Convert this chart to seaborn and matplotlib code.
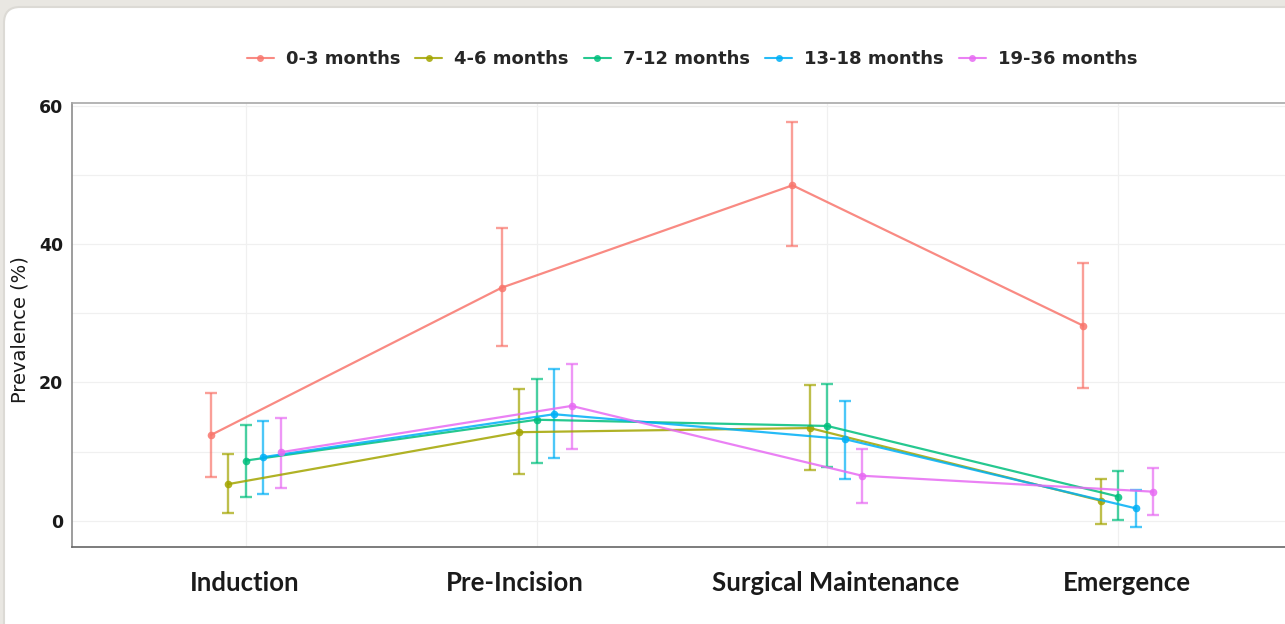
import numpy as np
import pandas as pd
import matplotlib
matplotlib.use('Agg')
from matplotlib import pyplot as plt
from matplotlib.lines import Line2D
from matplotlib.patches import FancyBboxPatch
import matplotlib.transforms as mtransforms
import seaborn as sns

stages = ['Induction', 'Pre-Incision', 'Surgical Maintenance', 'Emergence']
age_groups = ['0-3 months', '4-6 months', '7-12 months', '13-18 months', '19-36 months']

# one row per age group, one value per stage
prevalence = [
    [12.4, 33.7, 48.5, 28.2],
    [5.3, 12.8, 13.4, 2.9],
    [8.7, 14.6, 13.7, 3.5],
    [9.2, 15.4, 11.8, 1.8],
    [9.9, 16.6, 6.5, 4.2],
]
ci_low = [
    [6.3, 25.2, 39.7, 19.2],
    [1.1, 6.8, 7.3, -0.5],
    [3.4, 8.4, 7.7, 0.1],
    [3.9, 9.0, 6.1, -0.9],
    [4.8, 10.4, 2.5, 0.8],
]
ci_high = [
    [18.4, 42.3, 57.6, 37.3],
    [9.6, 19.1, 19.6, 6.1],
    [13.9, 20.5, 19.7, 7.2],
    [14.4, 21.9, 17.3, 4.4],
    [14.9, 22.7, 10.4, 7.6],
]

colors = ['#F8766D', '#A3A500', '#00BF7D', '#00B0F6', '#E76BF3']
dodge = 0.06

rows = []
for g, grp in enumerate(age_groups):
    for s, stage in enumerate(stages):
        rows.append({'stage': stage, 'group': grp, 'x': s + (g - 2) * dodge,
                     'prev': prevalence[g][s], 'lo': ci_low[g][s], 'hi': ci_high[g][s]})
df = pd.DataFrame(rows)

sns.set_style('white')
fig = plt.figure(figsize=(12.85, 6.24), dpi=100)
fig.patch.set_facecolor('#e9e7e2')

# white card behind the chart
card = FancyBboxPatch((4, -30), 1330, 647, boxstyle='round,pad=0,rounding_size=16',
                      transform=None, facecolor='white', edgecolor='#dcdad5',
                      linewidth=1.5, zorder=-10)
fig.add_artist(card)

ax = fig.add_axes([71.5 / 1285, 77 / 624, 1221 / 1285, 444 / 624])
ax.set_facecolor('white')

for g, grp in enumerate(age_groups):
    sub = df[df['group'] == grp]
    ax.errorbar(sub['x'], sub['prev'], yerr=[sub['prev'] - sub['lo'], sub['hi'] - sub['prev']],
                fmt='none', ecolor=colors[g], elinewidth=1.7, capsize=4, capthick=1.7,
                alpha=0.7, zorder=2)

sns.lineplot(data=df, x='x', y='prev', hue='group', hue_order=age_groups, palette=colors,
             estimator=None, sort=False, marker='o', markersize=5.5, markeredgewidth=0,
             linewidth=1.6, alpha=0.85, legend=False, ax=ax, zorder=3)

ax.set_xlim(-0.6, 3.6)
ax.set_ylim(-3.8, 60.4)
ax.set_yticks([0, 20, 40, 60])
ax.set_yticks([10, 30, 50], minor=True)
ax.set_xticks(range(len(stages)))
ax.set_xticklabels(stages)
ax.grid(axis='y', which='both', color='#f0f0f0', linewidth=0.9)
ax.grid(axis='x', which='major', color='#f0f0f0', linewidth=0.9)
ax.set_axisbelow(True)

ax.spines['right'].set_visible(False)
ax.spines['top'].set_color('#a8a8a8')
ax.spines['bottom'].set_color('#666666')
ax.spines['left'].set_color('#8c8c8c')
for sp in ['top', 'bottom', 'left']:
    ax.spines[sp].set_linewidth(1.2)

ax.tick_params(axis='y', which='major', length=4, width=0.8, color='#8c8c8c', pad=2)
ax.tick_params(axis='x', which='major', length=3, width=0.8, color='#8c8c8c', pad=14)
ax.tick_params(which='minor', length=0)

for lab in ax.get_yticklabels():
    lab.set_fontfamily('DejaVu Sans')
    lab.set_fontweight('bold')
    lab.set_fontsize(12.5)
    lab.set_color('#1a1a1a')

label_shift = [-1, -22, 8, 9]
for lab, dx in zip(ax.get_xticklabels(), label_shift):
    lab.set_fontfamily('Lato')
    lab.set_fontweight('bold')
    lab.set_fontsize(18.5)
    lab.set_color('#1a1a1a')
    lab.set_transform(lab.get_transform() + mtransforms.ScaledTranslation(dx / 100, 0, fig.dpi_scale_trans))

ax.set_xlabel('')
ax.set_ylabel('Prevalence (%)', fontfamily='DejaVu Sans', fontsize=14, color='#1a1a1a')
ax.yaxis.set_label_coords(-0.034, 0.49)

handles = [Line2D([], [], color=c, marker='o', markersize=5, markeredgewidth=0,
                  linewidth=1.5, alpha=0.85) for c in colors]
fig.legend(handles, age_groups, loc='center', bbox_to_anchor=(692 / 1285, 1 - 59 / 624),
           ncol=5, frameon=False, handlelength=1.5, handletextpad=0.67, columnspacing=0.83,
           prop={'family': 'DejaVu Sans', 'weight': 'bold', 'size': 13})

fig.savefig('out.png', dpi=100, facecolor=fig.get_facecolor())
